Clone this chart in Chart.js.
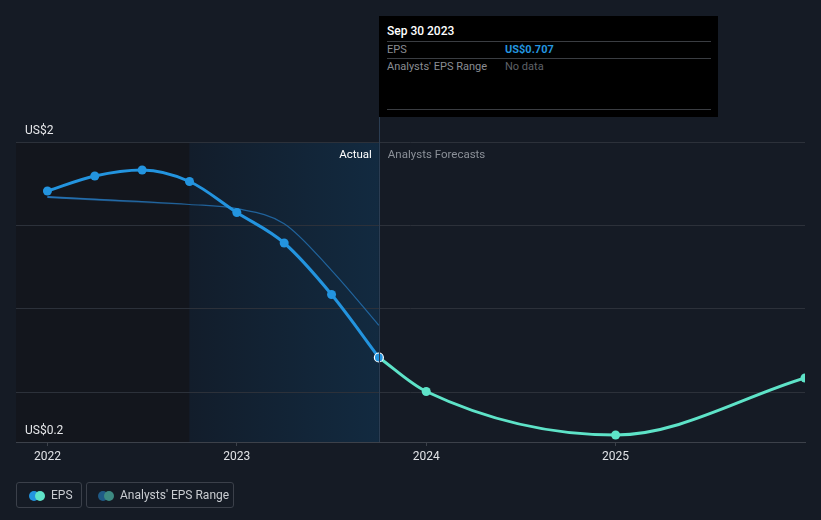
<!DOCTYPE html>
<html><head><meta charset="utf-8">
<script src="https://cdn.jsdelivr.net/npm/chart.js@4"></script>
<style>
html,body{margin:0;padding:0;background:#151b25;}
body{width:821px;height:520px;position:relative;overflow:hidden;font-family:Roboto,"Open Sans",sans-serif;}
#wrap{position:absolute;left:0;top:0;width:821px;height:520px;}
#tip{position:absolute;left:379px;top:16px;width:339px;height:101px;background:#000;font-size:11px;}
#tip .t{position:absolute;left:8px;top:8px;color:#fff;font-size:12px;font-weight:500;}
#tip .ln{position:absolute;left:8px;width:324px;height:1px;background:#3a3d42;}
#tip .l{position:absolute;left:8px;color:#8a8d93;}
#tip .v{position:absolute;left:126px;}
.leg{position:absolute;top:482px;height:26px;border:1px solid #3b404a;border-radius:3px;box-sizing:border-box;color:#c9ccd1;font-size:12px;}
.leg span.d{position:absolute;top:8px;width:10px;height:10px;border-radius:50%;}
.leg span.tx{position:absolute;top:5px;}
</style></head>
<body>
<div id="wrap"><canvas id="c" width="821" height="520"></canvas></div>
<div id="tip">
 <div class="t">Sep 30 2023</div>
 <div class="ln" style="top:25px"></div>
 <div class="l" style="top:27px">EPS</div><div class="v" style="top:27px;color:#2394df;font-weight:bold">US$0.707</div>
 <div class="ln" style="top:42px"></div>
 <div class="l" style="top:44px">Analysts' EPS Range</div><div class="v" style="top:44px;color:#5f6268">No data</div>
 <div class="ln" style="top:93px"></div>
</div>
<div class="leg" style="left:16px;width:66px"><span class="d" style="left:12px;background:#2394df"></span><span class="d" style="left:18px;background:#5ee3c8"></span><span class="tx" style="left:34px">EPS</span></div>
<div class="leg" style="left:86px;width:148px"><span class="d" style="left:11px;background:#1f5a86"></span><span class="d" style="left:17px;background:#3d8a82"></span><span class="tx" style="left:33px">Analysts' EPS Range</span></div>
<script>
const actualX = [2022.0, 2022.25, 2022.5, 2022.75, 2023.0, 2023.25, 2023.5, 2023.75];
const actualEPS = [1.706, 1.796, 1.832, 1.763, 1.577, 1.394, 1.085, 0.707];
const forecastX = [2023.75, 2024.0, 2025.0, 2026.0];
const forecastEPS = [0.707, 0.503, 0.242, 0.584];
const pastEstX = [2022.0, 2022.75, 2023.0, 2023.25, 2023.5, 2023.75];
const pastEstEPS = [1.67, 1.625, 1.60, 1.51, 1.23, 0.90];
const pastEstHeadX = [2022.0, 2022.75];
const pastEstHeadEPS = [1.67, 1.625];
const xTicks = [2022, 2023, 2024, 2025];
const yGrid = [0.5, 1.0, 1.5, 2.0];
const yLabels = [{v:2.0, t:'US$2'}, {v:0.2, t:'US$0.2'}];
const shadeStart = 2022.75, nowX = 2023.75;

const pts = (xs, ys) => xs.map((x,i)=>({x, y: ys[i]}));

const bgPlugin = {
  id:'bg',
  beforeDraw(chart){
    const {ctx, chartArea:a, scales:{x,y}} = chart;
    const xs = x.getPixelForValue(shadeStart), xn = x.getPixelForValue(nowX);
    ctx.save();
    ctx.fillStyle = '#13161d';
    ctx.fillRect(a.left, a.top, xs - a.left, a.bottom - a.top);
    const g = ctx.createLinearGradient(xs,0,xn,0);
    g.addColorStop(0,'#121d2b'); g.addColorStop(1,'#122a40');
    ctx.fillStyle = g;
    ctx.fillRect(xs, a.top, xn - xs, a.bottom - a.top);
    ctx.restore();
  },
  afterDraw(chart){
    const {ctx, chartArea:a, scales:{x,y}} = chart;
    const xn = x.getPixelForValue(nowX);
    ctx.save();
    ctx.strokeStyle = '#2b3d52'; ctx.lineWidth = 1;
    ctx.beginPath(); ctx.moveTo(Math.round(xn)+0.5, 16); ctx.lineTo(Math.round(xn)+0.5, a.bottom); ctx.stroke();
    ctx.font = '11.5px Roboto, sans-serif';
    ctx.textBaseline = 'middle';
    ctx.textAlign = 'right'; ctx.fillStyle = '#ffffff';
    ctx.fillText('Actual', xn - 7, a.top + 13);
    ctx.textAlign = 'left'; ctx.fillStyle = '#8b9098';
    ctx.fillText('Analysts Forecasts', xn + 9, a.top + 13);
    ctx.font = '12px Roboto, sans-serif';
    ctx.fillStyle = '#e6e7ea'; ctx.textBaseline = 'alphabetic';
    yLabels.forEach(l => ctx.fillText(l.t, 25, y.getPixelForValue(l.v) - 8));
    ctx.restore();
  }
};

new Chart(document.getElementById('c'), {
  type:'line',
  data:{datasets:[
    {data: pts(actualX, actualEPS), borderColor:'#2394df', backgroundColor:'#2394df', borderWidth:3,
     cubicInterpolationMode:'monotone', pointRadius:4.5, pointHoverRadius:4.5,
     pointBorderColor: actualX.map((x,i)=> i===actualX.length-1 ? '#ffffff' : '#2394df'),
     pointBorderWidth: actualX.map((x,i)=> i===actualX.length-1 ? 1.2 : 0), order:1},
    {data: pts(forecastX, forecastEPS), borderColor:'#5ee3c8', backgroundColor:'#5ee3c8', borderWidth:3,
     cubicInterpolationMode:'monotone', pointRadius: forecastX.map((x,i)=> i===0?0:4.5), pointBorderWidth:0, order:2},
    {data: pts(pastEstX, pastEstEPS), borderColor:'rgba(38,120,190,0.75)', borderWidth:1.2,
     cubicInterpolationMode:'monotone', pointRadius:0, order:3},
    {data: pts(pastEstHeadX, pastEstHeadEPS), borderWidth:2.2, pointRadius:0, order:4,
     borderColor(c){ const ch=c.chart, a=ch.chartArea; if(!a) return 'rgba(38,120,190,0.6)';
       const x=ch.scales.x; const g=ch.ctx.createLinearGradient(x.getPixelForValue(2022),0,x.getPixelForValue(2022.75),0);
       g.addColorStop(0,'rgba(38,120,190,0.9)'); g.addColorStop(1,'rgba(38,120,190,0)'); return g; }}
  ]},
  options:{
    responsive:false, animation:false, events:[],
    layout:{padding:{left:16, right:16, top:142, bottom:48}},
    plugins:{legend:{display:false}, tooltip:{enabled:false}},
    scales:{
      x:{type:'linear', min:2021.834, max:2026.0,
        afterBuildTicks(s){ s.ticks = xTicks.map(v=>({value:v})); },
        afterFit(s){ s.height = 30; },
        grid:{drawOnChartArea:false, drawTicks:true, tickLength:4, color:'#3c414a'},
        border:{display:true, color:'#3c414a'},
        ticks:{color:'#e0e2e6', font:{family:'Roboto', size:12}, padding:4, callback:v=>String(v), maxRotation:0}
      },
      y:{min:0.2, max:2.0,
        afterBuildTicks(s){ s.ticks = yGrid.map(v=>({value:v})); },
        afterFit(s){ s.width = 0; },
        grid:{color:'#2c313a', drawTicks:false},
        border:{display:false},
        ticks:{display:false}
      }
    }
  },
  plugins:[bgPlugin]
});
</script>
</body></html>
